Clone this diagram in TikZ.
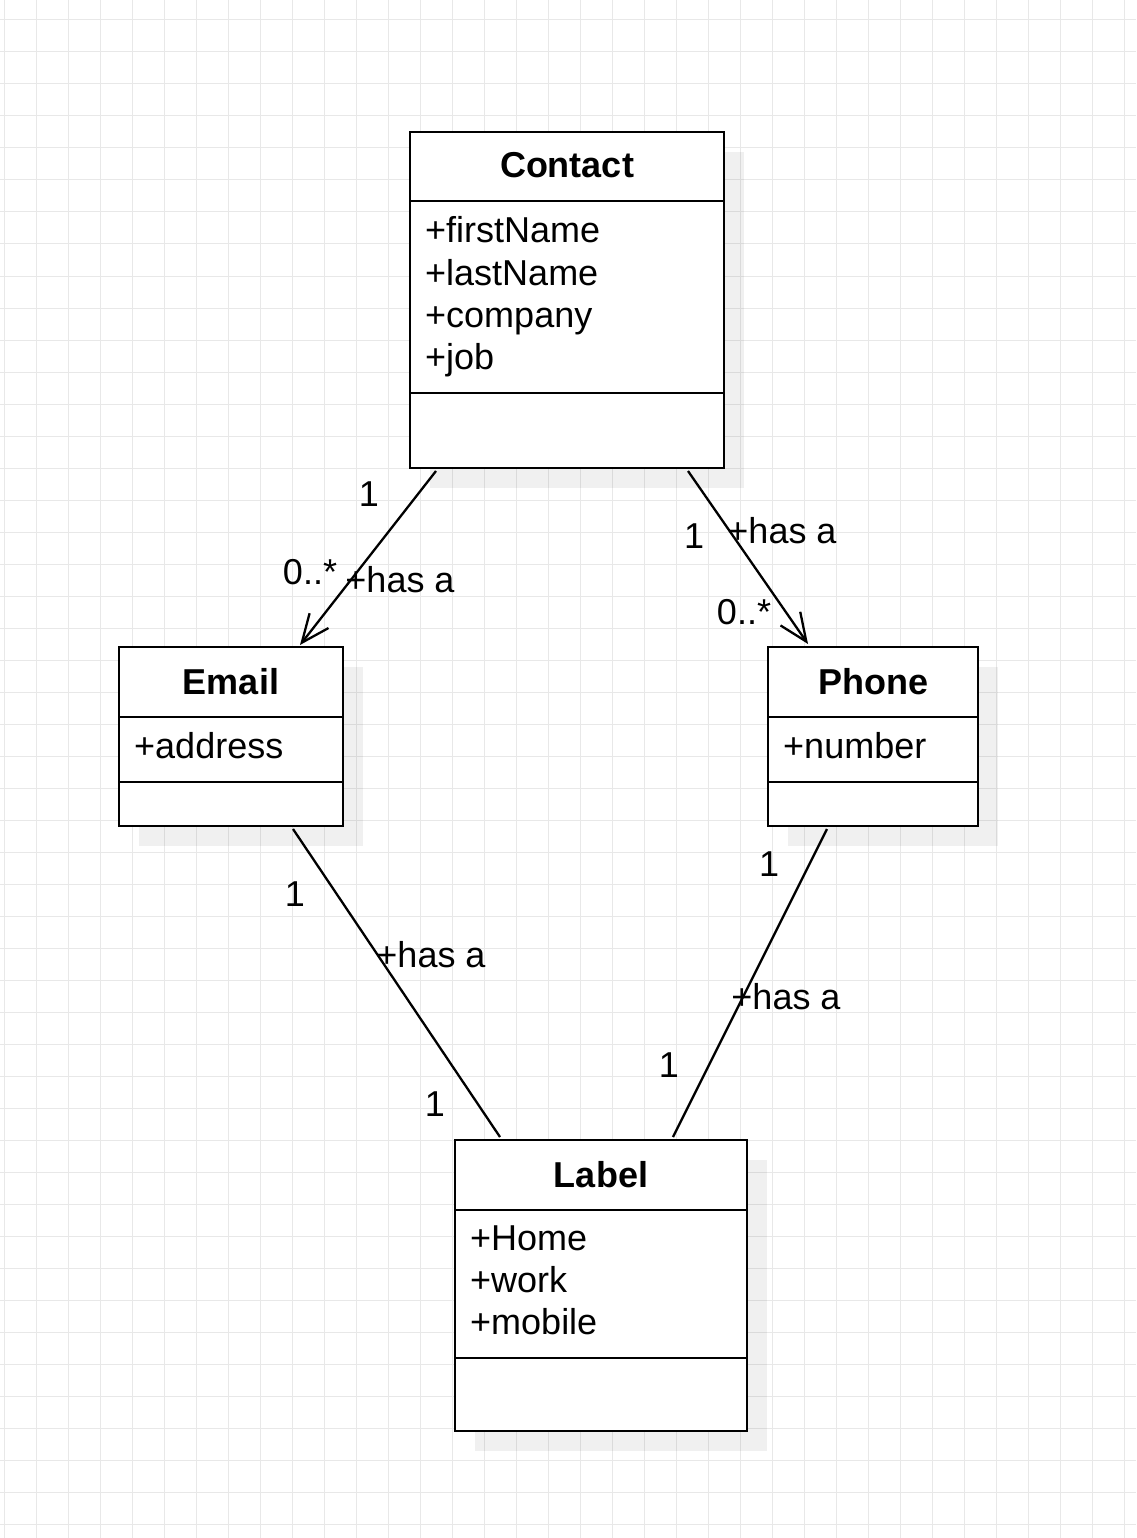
\documentclass[tikz,border=0pt]{standalone}
\usepackage{fontspec}
\setmainfont{Liberation Sans}
\usetikzlibrary{arrows.meta,calc}
\definecolor{gridc}{HTML}{E8E8E8}
\definecolor{shadowc}{HTML}{000000}
\begin{document}
\begin{tikzpicture}[x=1pt,y=-1pt,
  gridline/.style={draw=gridc, line width=1pt},
  shadowbox/.style={fill=shadowc, fill opacity=0.06},
  classbox/.style={draw=black, fill=white, line width=2.6pt, inner sep=0pt, outer sep=0pt, anchor=north west},
  sepline/.style={draw=black, line width=2.6pt},
  titletext/.style={font=\fontsize{36}{42}\selectfont\bfseries, inner sep=0pt, anchor=base},
  attrtext/.style={font=\fontsize{36}{42}\selectfont, inner sep=0pt, anchor=base west},
  multtext/.style={font=\fontsize{36}{42}\selectfont, inner sep=0pt, anchor=center},
  conn/.style={draw=black, line width=2.3pt},
  openarrow/.style={-{Straight Barb[length=28pt,width=24pt,line width=2.3pt]}}
]
\useasboundingbox (0,0) rectangle (1136,1538);
\fill[white] (0,0) rectangle (1136,1538);
% grid
\foreach \gx in {4,36,...,1136} \draw[gridline] (\gx,0) -- (\gx,1538);
\foreach \gy in {20,52,...,1538} \draw[gridline] (0,\gy) -- (1136,\gy);

% shadows
\fill[shadowbox] (430,152) rectangle (744,488);
\fill[shadowbox] (139,667) rectangle (363,846);
\fill[shadowbox] (788,667) rectangle (998,846);
\fill[shadowbox] (475,1160) rectangle (767,1451);

% Contact
\node[classbox, minimum width=314pt, minimum height=336pt] (contact) at (410,132) {};
\draw[sepline] ($(contact.north west)+(0,69)$) -- ($(contact.north east)+(0,69)$);
\draw[sepline] ($(contact.north west)+(0,261)$) -- ($(contact.north east)+(0,261)$);
\node[titletext] (contactT) at (567,178) {Contact};
\node[attrtext] (contactA1) at (425,243) {+firstName};
\node[attrtext] (contactA2) at (425,285) {+lastName};
\node[attrtext] (contactA3) at (425,327) {+company};
\node[attrtext] (contactA4) at (425,369) {+job};

% Email
\node[classbox, minimum width=224pt, minimum height=179pt] (email) at (119,647) {};
\draw[sepline] ($(email.north west)+(0,70)$) -- ($(email.north east)+(0,70)$);
\draw[sepline] ($(email.north west)+(0,135)$) -- ($(email.north east)+(0,135)$);
\node[titletext] (emailT) at (231,694) {Email};
\node[attrtext] (emailA1) at (134,758) {+address};

% Phone
\node[classbox, minimum width=210pt, minimum height=179pt] (phone) at (768,647) {};
\draw[sepline] ($(phone.north west)+(0,70)$) -- ($(phone.north east)+(0,70)$);
\draw[sepline] ($(phone.north west)+(0,135)$) -- ($(phone.north east)+(0,135)$);
\node[titletext] (phoneT) at (873,694) {Phone};
\node[attrtext] (phoneA1) at (783,758) {+number};

% Label
\node[classbox, minimum width=292pt, minimum height=291pt] (label) at (455,1140) {};
\draw[sepline] ($(label.north west)+(0,70)$) -- ($(label.north east)+(0,70)$);
\draw[sepline] ($(label.north west)+(0,218)$) -- ($(label.north east)+(0,218)$);
\node[titletext] (labelT) at (601,1187) {Label};
\node[attrtext] (labelA1) at (470,1250) {+Home};
\node[attrtext] (labelA2) at (470,1292) {+work};
\node[attrtext] (labelA3) at (470,1334) {+mobile};

% connectors
\draw[conn, openarrow] ($(contact.south west)+(26,3)$) -- ($(email.north west)+(181,-2)$);
\draw[conn, openarrow] ($(contact.south west)+(278,3)$) -- ($(phone.north west)+(40,-3)$);
\draw[conn] ($(email.south west)+(174,3)$) -- ($(label.north west)+(45,-3)$);
\draw[conn] ($(phone.south west)+(59,3)$) -- ($(label.north west)+(218,-3)$);

% multiplicities and roles
\node[multtext] (m1) at (369,494) {1};
\node[multtext] (m2) at (310,572) {0..*};
\node[multtext] (r1) at (400,580) {+has a};
\node[multtext] (m3) at (694,536) {1};
\node[multtext] (r2) at (782,531) {+has a};
\node[multtext] (m4) at (744,612) {0..*};
\node[multtext] (m5) at (295,894) {1};
\node[multtext] (r3) at (431,955) {+has a};
\node[multtext] (m6) at (435,1104) {1};
\node[multtext] (m7) at (769,864) {1};
\node[multtext] (r4) at (786,997) {+has a};
\node[multtext] (m8) at (669,1065) {1};
\end{tikzpicture}
\end{document}
